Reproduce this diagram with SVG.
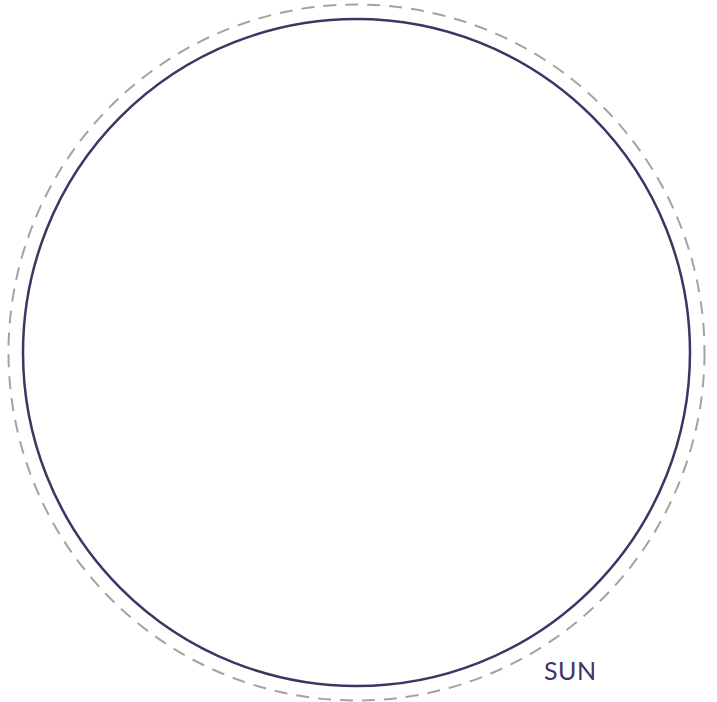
<svg xmlns="http://www.w3.org/2000/svg" width="717" height="702" viewBox="0 0 717 702">
<style>
.orbit{fill:none;stroke:#a3a3a3;stroke-width:2;stroke-dasharray:13 9}
.sun{fill:#ffffff;stroke:#3d3563;stroke-width:2.5}
.label{font-family:Lato,"Liberation Sans",sans-serif;font-size:25px;fill:#3d3563;letter-spacing:0.5px}
</style>
<rect width="717" height="702" fill="#ffffff"/>
<g id="orbit"><circle class="orbit" cx="356.5" cy="352.5" r="348"/></g>
<g id="sun"><circle class="sun" cx="356.5" cy="352.5" r="333.5"/>
<text class="label" x="544" y="680">SUN</text></g>
</svg>
